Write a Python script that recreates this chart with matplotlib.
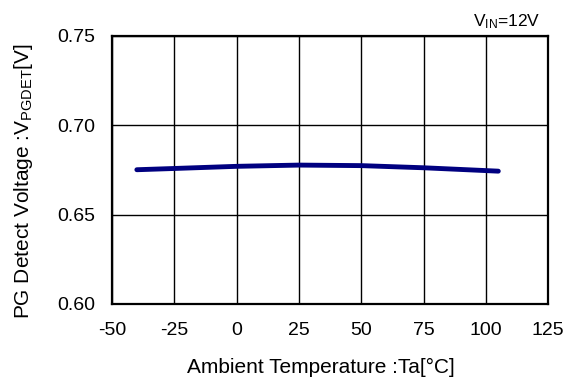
import matplotlib
matplotlib.use('Agg')
import matplotlib.pyplot as plt

plt.rcParams['font.family'] = ['Liberation Sans', 'DejaVu Sans']
plt.rcParams['mathtext.fontset'] = 'custom'
plt.rcParams['mathtext.rm'] = 'Liberation Sans'
plt.rcParams['mathtext.it'] = 'Liberation Sans'
plt.rcParams['axes.unicode_minus'] = False

# data
temp = [-40, -25, 0, 25, 50, 75, 105]
vpgdet = [0.6751, 0.6758, 0.6770, 0.6777, 0.6774, 0.6762, 0.6743]
x_ticks = [-50, -25, 0, 25, 50, 75, 100, 125]
y_ticks = [0.60, 0.65, 0.70, 0.75]

fig = plt.figure(figsize=(5.71, 3.78), dpi=100)
ax = fig.add_axes([0.196, 0.196, 0.764, 0.709])

ax.plot(temp, vpgdet, color='#000080', lw=3.5, solid_capstyle='round')

ax.set_xlim(-50, 125)
ax.set_ylim(0.60, 0.75)
ax.set_xticks(x_ticks)
ax.set_yticks(y_ticks)
ax.set_yticklabels(['%.2f' % v for v in y_ticks])
ax.grid(True, color='black', lw=1.0)
ax.tick_params(length=0, labelsize=14)
ax.tick_params(axis='y', pad=12)
ax.tick_params(axis='x', pad=13)
for s in ax.spines.values():
    s.set_linewidth(1.6)
    s.set_color('black')

ax.set_xlabel('Ambient Temperature :Ta[\u00b0C]', fontsize=15)
ax.xaxis.set_label_coords(0.48, -0.2)
ax.set_ylabel('PG Detect Voltage :V$_{\\mathrm{PGDET}}$[V]', fontsize=15)
ax.yaxis.set_label_coords(-0.177, 0.459)
ax.text(0.982, 1.02, 'V$_{\\mathrm{IN}}$=12V', transform=ax.transAxes,
        ha='right', va='bottom', fontsize=12.5)

plt.savefig('out.png', dpi=100)
